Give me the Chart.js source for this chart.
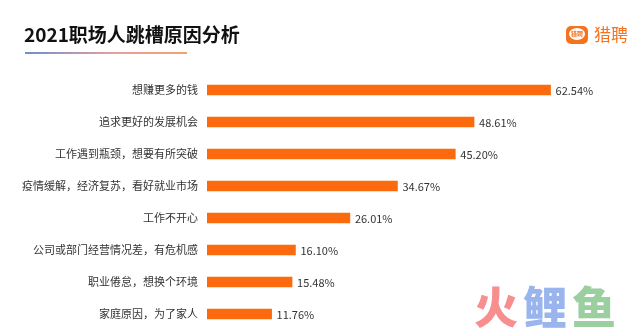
<!DOCTYPE html>
<html>
<head>
<meta charset="utf-8">
<script src="https://cdn.jsdelivr.net/npm/chart.js@4/dist/chart.umd.min.js"></script>
<style>
    html, body { margin: 0; padding: 0; background: #fff; overflow: hidden; }
    canvas { display: block; }
</style>
</head>
<body>
<canvas id="grafico" width="644" height="331"></canvas>
<script>
const categorias = [
    '想赚更多的钱',
    '追求更好的发展机会',
    '工作遇到瓶颈，想要有所突破',
    '疫情缓解，经济复苏，看好就业市场',
    '工作不开心',
    '公司或部门经营情况差，有危机感',
    '职业倦怠，想换个环境',
    '家庭原因，为了家人'
];
const valores = [62.54, 48.61, 45.20, 34.67, 26.01, 16.10, 15.48, 11.76];
const titulo = '2021职场人跳槽原因分析';
const marca = '猎聘';
const marcaAgua = ['火', '鲤', '鱼'];

const fonte = '"Noto Sans CJK SC", "Noto Sans", sans-serif';

// titulo, logo, rotulos e marca d'agua
const extras = {
    id: 'extras',
    afterDatasetsDraw(chart) {
        const ctx = chart.ctx;
        ctx.save();

        // valores no fim das barras
        const meta = chart.getDatasetMeta(0);
        ctx.font = '11px ' + fonte;
        ctx.fillStyle = '#333';
        ctx.textAlign = 'left';
        ctx.textBaseline = 'middle';
        meta.data.forEach((bar, i) => {
            ctx.fillText(valores[i].toFixed(2) + '%', bar.x + 5, bar.y + 1);
        });

        // titulo
        ctx.font = 'bold 19px ' + fonte;
        ctx.fillStyle = '#111';
        ctx.textBaseline = 'alphabetic';
        ctx.fillText(titulo, 24, 42);

        const grad = ctx.createLinearGradient(25, 0, 187, 0);
        grad.addColorStop(0, '#6a8fd0');
        grad.addColorStop(0.55, '#e7a0a0');
        grad.addColorStop(1, '#f4a070');
        ctx.fillStyle = grad;
        ctx.fillRect(25, 52, 162, 2);

        // logo
        ctx.fillStyle = '#f5731f';
        ctx.beginPath();
        ctx.roundRect(566, 26, 22, 18, 5);
        ctx.fill();
        ctx.fillStyle = '#fff';
        ctx.beginPath();
        ctx.ellipse(577, 34, 8, 6, 0, 0, Math.PI * 2);
        ctx.fill();
        ctx.fillStyle = '#f5731f';
        ctx.font = 'bold 6px ' + fonte;
        ctx.textAlign = 'center';
        ctx.textBaseline = 'middle';
        ctx.fillText(marca, 577, 34);
        ctx.font = '17px ' + fonte;
        ctx.textAlign = 'left';
        ctx.fillText(marca, 594, 35);

        // marca d'agua
        const cores = ['#f78f8f', '#9ab4ee', '#9ccf9f'];
        ctx.font = '900 44px ' + fonte;
        ctx.textBaseline = 'middle';
        marcaAgua.forEach((c, i) => {
            ctx.fillStyle = cores[i];
            ctx.fillText(c, 474 + i * 49, 307);
        });

        ctx.restore();
    }
};

document.addEventListener('DOMContentLoaded', () => {
    const ctx = document.getElementById('grafico').getContext('2d');
    new Chart(ctx, {
        type: 'bar',
        data: {
            labels: categorias,
            datasets: [{
                data: valores,
                backgroundColor: '#fb6a0c',
                barThickness: 10,
                borderWidth: 0
            }]
        },
        options: {
            indexAxis: 'y',
            responsive: false,
            maintainAspectRatio: false,
            animation: false,
            layout: { padding: { top: 74, bottom: 1, left: 0, right: 25 } },
            plugins: {
                legend: { display: false },
                tooltip: { enabled: false }
            },
            scales: {
                x: {
                    display: false,
                    min: 0,
                    max: 75
                },
                y: {
                    grid: { display: false, drawTicks: false },
                    border: { display: false },
                    afterFit: (scale) => {
                        scale.width = 207;
                        scale.paddingTop = 0;
                        scale.paddingBottom = 0;
                    },
                    ticks: {
                        padding: 9,
                        color: '#333',
                        font: { size: 11, family: fonte }
                    }
                }
            }
        },
        plugins: [extras]
    });
});
</script>
</body>
</html>
